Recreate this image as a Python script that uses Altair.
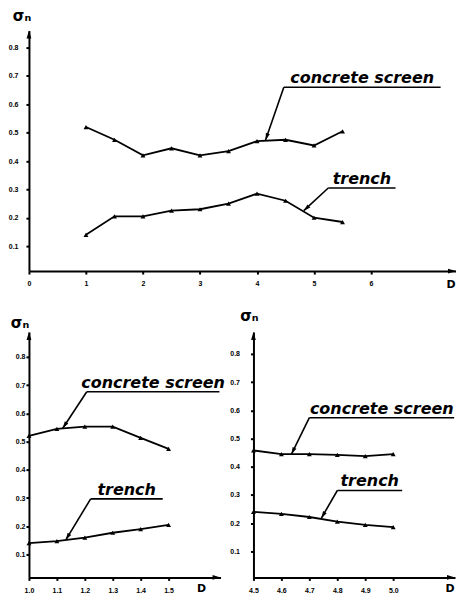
import math
import altair as alt
import pandas as pd

# ---------------- data ----------------
SERIES = ["concrete screen", "trench"]

TOP_D = [1, 1.5, 2, 2.5, 3, 3.5, 4, 4.5, 5, 5.5]
TOP_CONCRETE = [0.52, 0.475, 0.42, 0.445, 0.42, 0.435, 0.47, 0.475, 0.455, 0.505]
TOP_TRENCH = [0.14, 0.205, 0.205, 0.225, 0.23, 0.25, 0.285, 0.26, 0.2, 0.185]

BL_D = [1.0, 1.1, 1.2, 1.3, 1.4, 1.5]
BL_CONCRETE = [0.52, 0.545, 0.553, 0.553, 0.513, 0.474]
BL_TRENCH = [0.14, 0.147, 0.16, 0.177, 0.19, 0.205]

BR_D = [4.5, 4.6, 4.7, 4.8, 4.9, 5.0]
BR_CONCRETE = [0.458, 0.445, 0.445, 0.442, 0.438, 0.445]
BR_TRENCH = [0.24, 0.233, 0.222, 0.206, 0.194, 0.186]

TOP_X_TICKS = [0, 1, 2, 3, 4, 5, 6]
BL_X_TICKS = [1.0, 1.1, 1.2, 1.3, 1.4, 1.5]
BR_X_TICKS = [4.5, 4.6, 4.7, 4.8, 4.9, 5.0]
Y_TICKS = [0.1, 0.2, 0.3, 0.4, 0.5, 0.6, 0.7, 0.8]

# annotation anchors (data units): underline start/end, underline level, arrow tip
TOP_ANN_UX = [4.47, 5.25]
TOP_ANN_UX2 = [7.22, 6.43]
TOP_ANN_UY = [0.66, 0.305]
TOP_ANN_TIPX = [4.15, 4.82]
TOP_ANN_TIPY = [0.474, 0.225]

BL_ANN_UX = [1.207, 1.221]
BL_ANN_UX2 = [1.682, 1.479]
BL_ANN_UY = [0.676, 0.297]
BL_ANN_TIPX = [1.121, 1.132]
BL_ANN_TIPY = [0.547, 0.152]

BR_ANN_UX = [4.70, 4.80]
BR_ANN_UX2 = [5.218, 5.032]
BR_ANN_UY = [0.574, 0.316]
BR_ANN_TIPX = [4.636, 4.743]
BR_ANN_TIPY = [0.445, 0.218]

Y_TITLE = "σₙ"
X_TITLE = "D"

ARROW = "M0,0L0.6,2L-0.6,2Z"
LABEL_FONT = "Liberation Sans"
ANN_FONT = "DejaVu Sans"


def panel(xs, conc, trench, xdom, ydom, w, h, xticks, xfmt,
          ux, ux2, uy, tipx, tipy, ylab_pad, xlab_pad,
          sig_dx, sig_dy, d_dx, d_dy, lab_size=7):
    rows = []
    for s, vals in zip(SERIES, [conc, trench]):
        for x, y in zip(xs, vals):
            rows.append({"series": s, "x": x, "y": y})
    df = pd.DataFrame(rows)

    xs_ = alt.Scale(domain=xdom, nice=False, zero=False)
    ys_ = alt.Scale(domain=ydom, nice=False, zero=False)

    axis_common = dict(
        domainColor="black", domainWidth=2, tickColor="black", tickSize=3,
        tickWidth=2, labelFont=LABEL_FONT, labelFontWeight="bold",
        labelFontSize=lab_size, labelColor="black", grid=False, title=None,
    )
    x_axis = alt.Axis(values=xticks, format=xfmt, labelPadding=xlab_pad,
                      labelFlush=False, labelOverlap=False, **axis_common)
    y_axis = alt.Axis(values=Y_TICKS, format=".1f", labelPadding=ylab_pad,
                      labelFlush=False, labelOverlap=False, **axis_common)

    def X(f):
        return alt.X(f, scale=xs_, axis=x_axis)

    def Y(f):
        return alt.Y(f, scale=ys_, axis=y_axis)

    base = alt.Chart(df)
    lines = base.mark_line(color="black", strokeWidth=1.8).encode(
        x=X("x:Q"), y=Y("y:Q"), detail="series:N")
    pts = base.mark_point(shape="triangle-up", filled=True, size=24,
                          color="black", opacity=1).encode(x=X("x:Q"), y=Y("y:Q"))

    # axis arrowheads
    ax_df = pd.DataFrame({"x": [xdom[0], xdom[1]], "y": [ydom[1], ydom[0]],
                          "ang": [0, 90]})
    arrows = alt.Chart(ax_df).mark_point(shape=ARROW, filled=True, size=64,
                                         color="black", opacity=1).encode(
        x=X("x:Q"), y=Y("y:Q"), angle=alt.Angle("ang:Q", scale=None))

    # axis titles
    sig = alt.Chart(pd.DataFrame({"x": [xdom[0]], "y": [ydom[1]], "t": [Y_TITLE]})).mark_text(
        font=ANN_FONT, fontWeight="bold", fontSize=15, color="black",
        dx=sig_dx, dy=sig_dy).encode(x=X("x:Q"), y=Y("y:Q"), text="t:N")
    dlab = alt.Chart(pd.DataFrame({"x": [xdom[1]], "y": [ydom[0]], "t": [X_TITLE]})).mark_text(
        font=ANN_FONT, fontWeight="bold", fontSize=11, color="black",
        dx=d_dx, dy=d_dy).encode(x=X("x:Q"), y=Y("y:Q"), text="t:N")

    # annotations
    sx = w / (xdom[1] - xdom[0])
    sy = h / (ydom[1] - ydom[0])
    angs = []
    for a, b, c, d in zip(ux, uy, tipx, tipy):
        dxp = (c - a) * sx
        dyp = -(d - b) * sy
        angs.append(math.degrees(math.atan2(dxp, -dyp)) % 360)
    ann = pd.DataFrame({
        "label": SERIES, "ux": ux, "ux2": ux2, "uy": uy,
        "tipx": tipx, "tipy": tipy, "ang": angs,
        "tx": [(a + b) / 2 for a, b in zip(ux, ux2)],
    })
    abase = alt.Chart(ann)
    under = abase.mark_rule(color="black", strokeWidth=1.6).encode(
        x=X("ux:Q"), x2="ux2:Q", y=Y("uy:Q"))
    leader = abase.mark_rule(color="black", strokeWidth=1.6).encode(
        x=X("ux:Q"), x2="tipx:Q", y=Y("uy:Q"), y2="tipy:Q")
    head = abase.mark_point(shape=ARROW, filled=True, size=49, color="black",
                            opacity=1).encode(
        x=X("tipx:Q"), y=Y("tipy:Q"), angle=alt.Angle("ang:Q", scale=None))
    txt = abase.mark_text(font=ANN_FONT, fontStyle="italic", fontWeight="bold",
                          fontSize=16, color="black", align="center",
                          baseline="bottom", dy=-1).encode(
        x=X("tx:Q"), y=Y("uy:Q"), text="label:N")

    return alt.layer(lines, pts, arrows, sig, dlab, under, leader, head, txt).properties(
        width=w, height=h)


top = panel(TOP_D, TOP_CONCRETE, TOP_TRENCH, [0, 7.49], [0.012, 0.86], 428, 241,
            TOP_X_TICKS, "d", TOP_ANN_UX, TOP_ANN_UX2, TOP_ANN_UY,
            TOP_ANN_TIPX, TOP_ANN_TIPY, ylab_pad=8, xlab_pad=5,
            sig_dx=-7, sig_dy=-15, d_dx=-5, d_dy=14)
bl = panel(BL_D, BL_CONCRETE, BL_TRENCH, [1.0, 1.686], [0.019, 0.888], 192, 246,
           BL_X_TICKS, ".1f", BL_ANN_UX, BL_ANN_UX2, BL_ANN_UY,
           BL_ANN_TIPX, BL_ANN_TIPY, ylab_pad=1, xlab_pad=6,
           sig_dx=-9, sig_dy=-9, d_dx=-19, d_dy=12)
br = panel(BR_D, BR_CONCRETE, BR_TRENCH, [4.5, 5.221], [0.008, 0.878], 202, 246,
           BR_X_TICKS, ".1f", BR_ANN_UX, BR_ANN_UX2, BR_ANN_UY,
           BR_ANN_TIPX, BR_ANN_TIPY, ylab_pad=11, xlab_pad=6,
           sig_dx=-4, sig_dy=-16, d_dx=-5, d_dy=12)

bottom = alt.hconcat(bl, br, spacing=33, bounds="flush")
chart = alt.vconcat(top, bottom, spacing=61, bounds="flush").properties(
    padding={"left": 0, "top": 0, "right": 0, "bottom": 0},
    background="white",
).configure_view(stroke=None)

chart.save("out.html", embed_options={"renderer": "svg", "actions": False})
